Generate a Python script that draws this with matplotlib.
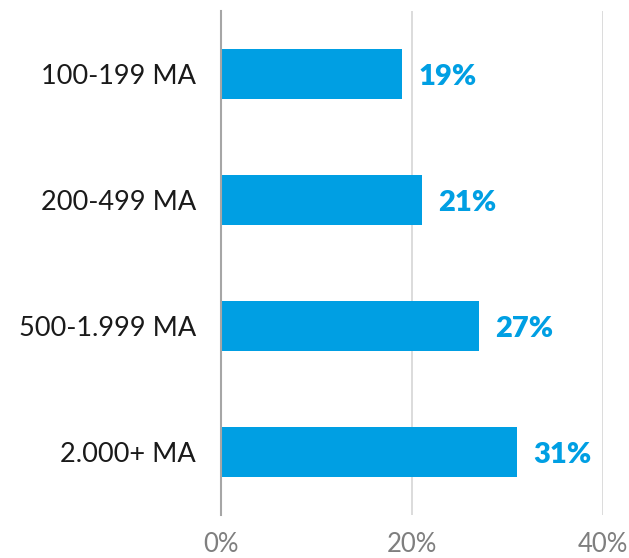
import matplotlib.pyplot as plt
from matplotlib.ticker import FuncFormatter

plt.rcParams['font.family'] = ['Lato', 'DejaVu Sans']

categories = ['100-199 MA', '200-499 MA', '500-1.999 MA', '2.000+ MA']
values = [19, 21, 27, 31]
xticks = [0, 20, 40]

blue = '#009FE3'

fig = plt.figure(figsize=(6.29, 5.58), dpi=100)
ax = fig.add_axes([221 / 629, 1 - 515 / 558, 382 / 629, 504 / 558])

pos = list(range(len(categories)))
ax.barh(pos, values, height=0.39, color=blue, zorder=3)

for p, v in zip(pos, values):
    ax.text(v + 1.7, p + 0.02, f'{v}%', va='center', ha='left', color=blue,
            fontsize=21, fontweight='heavy')

ax.set_ylim(len(categories) - 0.5, -0.5)
ax.set_xlim(0, 40)
ax.set_yticks(pos)
ax.set_yticklabels(categories, fontsize=19.5, color='#1a1a1a')
ax.set_xticks(xticks)
ax.xaxis.set_major_formatter(FuncFormatter(lambda x, _: f'{x:.0f}%'))
ax.tick_params(axis='x', labelsize=18.5, labelcolor='#7f7f7f', length=0, pad=12)
ax.tick_params(axis='y', length=0, pad=18)

ax.grid(axis='x', color='#d9d9d9', linewidth=1.3, zorder=0)
for s in ['top', 'right', 'bottom']:
    ax.spines[s].set_visible(False)
ax.spines['left'].set_color('#a6a6a6')
ax.spines['left'].set_linewidth(1.5)
ax.spines['left'].set_zorder(4)

fig.savefig('out.png', dpi=100)
